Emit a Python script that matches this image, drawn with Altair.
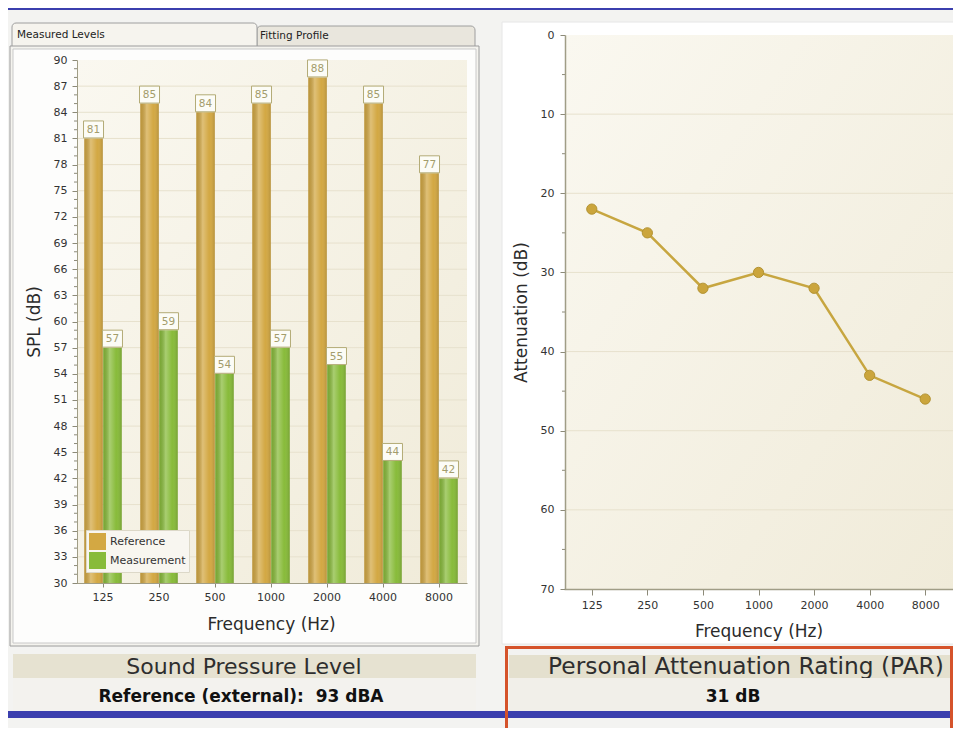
import altair as alt
import pandas as pd

# ---------------- data ----------------
freqs = ["125", "250", "500", "1000", "2000", "4000", "8000"]
reference = [81, 85, 84, 85, 88, 85, 77]
measurement = [57, 59, 54, 57, 55, 44, 42]
attenuation = [22, 25, 32, 30, 32, 43, 46]
series_names = ["Reference", "Measurement"]
series_colors = ["#d3a843", "#88bb3a"]
spl_ticks = list(range(30, 91, 3))
spl_minor = [v for v in range(31, 90) if v % 3]
spl_grid = list(range(33, 90, 3))
att_ticks = list(range(0, 71, 10))
att_minor = list(range(5, 70, 10))
att_grid = list(range(10, 70, 10))

tab_left = "Measured Levels"
tab_right = "Fitting Profile"
left_title = "Sound Pressure Level"
left_sub = "Reference (external):\u00a0 93 dBA"
right_title = "Personal Attenuation Rating (PAR)"
right_sub = "31 dB"
x_title = "Frequency (Hz)"
spl_title = "SPL (dB)"
att_title = "Attenuation (dB)"

FONT = "DejaVu Sans"
W, H = 945, 720


def P(v):
    return v - 8


one = pd.DataFrame({"k": [0]})


def rect(x1, y1, x2, y2, **kw):
    return alt.Chart(one).mark_rect(**kw).encode(
        x=alt.value(P(x1)), x2=alt.value(P(x2)),
        y=alt.value(P(y1)), y2=alt.value(P(y2)))


def label(txt, x, y, **kw):
    return alt.Chart(one).mark_text(text=txt, font=FONT, **kw).encode(
        x=alt.value(P(x)), y=alt.value(P(y)))


cream = alt.Gradient(
    gradient="linear", x1=0, y1=0, x2=1, y2=1,
    stops=[alt.GradientStop(offset=0, color="#faf8f0"),
           alt.GradientStop(offset=1, color="#f0ebd9")])

# ---------------- background decoration ----------------
bg = [
    rect(8, 8, 961, 10, color="#3b3fae"),
    # left tabs
    rect(257, 26, 475, 47, fill="#e9e6dd", stroke="#9e9e9e", strokeWidth=1,
         cornerRadiusTopLeft=4, cornerRadiusTopRight=4),
    rect(12, 23, 257, 47, fill="#f6f4ee", stroke="#9e9e9e", strokeWidth=1,
         cornerRadiusTopLeft=4, cornerRadiusTopRight=4),
    label(tab_left, 17, 35, fontSize=10.5, align="left", baseline="middle", color="#222"),
    label(tab_right, 260, 36, fontSize=10.5, align="left", baseline="middle", color="#222"),
    # left panel
    rect(10, 46, 479, 646, fill="#f4f3ee", stroke="#9c9c9c", strokeWidth=1),
    rect(13, 49, 476, 643, fill="#fdfdfc", stroke="#c9c9c9", strokeWidth=1),
    rect(77, 60, 467, 583, fill=cream),
    # right panel
    rect(502, 22, 961, 644, fill="#ffffff", stroke="#e6e6e6", strokeWidth=1),
    rect(565, 35, 953, 589, fill=cream),
    # bottom strips
    rect(13, 654, 476, 678, fill="#e6e2d1"),
    rect(509, 655, 958, 678, fill="#e4e0ce"),
]

# ---------------- left: bar chart ----------------
bars_df = pd.DataFrame(
    [{"freq": f, "series": s, "value": v}
     for s, vals in zip(series_names, [reference, measurement])
     for f, v in zip(freqs, vals)])

xL_scale = alt.Scale(domain=freqs, range=[P(75), P(467)], paddingInner=0.33, paddingOuter=0.165)
yL_scale = alt.Scale(domain=[30, 90], range=[P(583), P(60)], nice=False, zero=False)
xoff = alt.XOffset("series:N", sort=series_names,
                   scale=alt.Scale(domain=series_names, paddingInner=0.02))

xL_axis = alt.Axis(orient="bottom", offset=-(H - P(583)), title=x_title, labelAngle=0,
                   labelFont=FONT, labelFontSize=11, labelColor="#333", labelPadding=4,
                   tickSize=4, tickColor="#8c8a78", domainColor="#a09d86",
                   titleFont=FONT, titleFontSize=17, titleFontWeight="normal",
                   titleColor="#2b2b2b", titlePadding=14, grid=False, zindex=2)
yL_axis = alt.Axis(orient="left", offset=-P(77), title=spl_title, values=spl_ticks,
                   labelFont=FONT, labelFontSize=11, labelColor="#333", labelPadding=5,
                   tickSize=5, tickColor="#8c8a78", domainColor="#a09d86",
                   titleFont=FONT, titleFontSize=17, titleFontWeight="normal",
                   titleColor="#2b2b2b", titlePadding=10, grid=False, zindex=2)

grid_df = pd.DataFrame({"value": spl_grid})
minor_df = pd.DataFrame({"value": spl_minor})

gridL = alt.Chart(grid_df).mark_rule(color="#e7e1cd", strokeWidth=1).encode(
    y=alt.Y("value:Q", scale=yL_scale, axis=yL_axis),
    x=alt.value(P(77)), x2=alt.value(P(467)))
minorL = alt.Chart(minor_df).mark_rule(color="#8c8a78", strokeWidth=1).encode(
    y=alt.Y("value:Q", scale=yL_scale, axis=yL_axis),
    x=alt.value(P(74)), x2=alt.value(P(77)))

enc = dict(
    x=alt.X("freq:N", sort=freqs, scale=xL_scale, axis=xL_axis),
    xOffset=xoff,
    y=alt.Y("value:Q", scale=yL_scale, axis=yL_axis),
)

bars = alt.Chart(bars_df).mark_bar().encode(
    y2=alt.datum(30),
    color=alt.Color("series:N", sort=series_names,
                    scale=alt.Scale(domain=series_names, range=series_colors),
                    legend=alt.Legend(orient="none", legendX=P(86), legendY=P(530), title=None,
                                      symbolType="square", symbolSize=289, symbolStrokeWidth=0,
                                      labelFont=FONT, labelFontSize=11, labelColor="#333",
                                      fillColor="#f8f6f0", strokeColor="#dcd8c8", padding=3,
                                      rowPadding=2, symbolOpacity=1)),
    **enc)

shine = alt.Gradient(
    gradient="linear", x1=0, y1=0, x2=1, y2=0,
    stops=[alt.GradientStop(offset=0, color="rgba(0,0,0,0.10)"),
           alt.GradientStop(offset=0.35, color="rgba(255,255,255,0.28)"),
           alt.GradientStop(offset=0.7, color="rgba(255,255,255,0.0)"),
           alt.GradientStop(offset=1, color="rgba(0,0,0,0.14)")])
bars_shine = alt.Chart(bars_df).mark_bar(fill=shine).encode(y2=alt.datum(30), **enc)

boxes = alt.Chart(bars_df).mark_point(
    shape="M-1,-0.85H1V0.85H-1Z", size=400, filled=True, fill="#fcfcf6",
    stroke="#b3ab76", strokeWidth=1, opacity=1, yOffset=-9).encode(**enc)
texts = alt.Chart(bars_df).mark_text(
    font=FONT, fontSize=10.5, color="#a39d6c", dy=-8.5, baseline="middle").encode(
    text="value:Q", **enc)

left = alt.layer(gridL, minorL, bars, bars_shine, boxes, texts)

# ---------------- right: line chart ----------------
att_df = pd.DataFrame({"freq": freqs, "att": attenuation})
xR_scale = alt.Scale(type="point", domain=freqs, range=[P(564), P(953)], padding=0.5)
yR_scale = alt.Scale(domain=[0, 70], range=[P(35), P(589)], nice=False, zero=False)
xR_axis = alt.Axis(orient="bottom", offset=-(H - P(589)), title=x_title, labelAngle=0,
                   labelFont=FONT, labelFontSize=11, labelColor="#333", labelPadding=4,
                   tickSize=6, tickColor="#8c8a78", domainColor="#a09d86", domainWidth=1.5,
                   titleFont=FONT, titleFontSize=17, titleFontWeight="normal",
                   titleColor="#2b2b2b", titlePadding=13, grid=False, zindex=2)
yR_axis = alt.Axis(orient="left", offset=-P(565), title=att_title, values=att_ticks,
                   labelFont=FONT, labelFontSize=11, labelColor="#333", labelPadding=6,
                   tickSize=5, tickColor="#8c8a78", domainColor="#a09d86", domainWidth=1.5,
                   titleFont=FONT, titleFontSize=17, titleFontWeight="normal",
                   titleColor="#2b2b2b", titlePadding=10, grid=False, zindex=2)

gridR = alt.Chart(pd.DataFrame({"att": att_grid})).mark_rule(color="#e7e1cd").encode(
    y=alt.Y("att:Q", scale=yR_scale, axis=yR_axis),
    x=alt.value(P(565)), x2=alt.value(P(953)))
minorR = alt.Chart(pd.DataFrame({"att": att_minor})).mark_rule(color="#8c8a78").encode(
    y=alt.Y("att:Q", scale=yR_scale, axis=yR_axis),
    x=alt.value(P(562)), x2=alt.value(P(565)))
encR = dict(x=alt.X("freq:N", sort=freqs, scale=xR_scale, axis=xR_axis),
            y=alt.Y("att:Q", scale=yR_scale, axis=yR_axis))
line = alt.Chart(att_df).mark_line(color="#c7a640", strokeWidth=2.5).encode(**encR)
pts = alt.Chart(att_df).mark_circle(size=105, color="#cba53c", opacity=1,
                                    stroke="#b39332", strokeWidth=1).encode(**encR)
right = alt.layer(gridR, minorR, line, pts)

# ---------------- foreground decoration ----------------
fg = [
    label(left_title, 244, 667, fontSize=22, align="center", baseline="middle", color="#2e2e2e"),
    label(right_title, 746, 667, fontSize=23.3, align="center", baseline="middle", color="#2e2e2e"),
    rect(13, 678, 476, 711, fill="#f3f2ee"),
    rect(509, 678, 958, 711, fill="#f1efe9"),
    label(left_sub, 241, 697, fontSize=17, fontWeight="bold", align="center",
          baseline="middle", color="#111"),
    label(right_sub, 733, 697, fontSize=17, fontWeight="bold", align="center",
          baseline="middle", color="#111"),
    rect(8, 711, 961, 718, color="#3b3fae"),
    rect(506.5, 647.5, 951.5, 740, fill=None, filled=False, stroke="#d5532b", strokeWidth=3),
]

chart = alt.layer(*bg, left, right, *fg).resolve_scale(
    x="independent", y="independent", color="independent"
).properties(
    width=W, height=H, padding=0,
    autosize=alt.AutoSizeParams(type="none"),
    background="#f3f3f1",
).configure_view(stroke=None)

chart.save("out.html", embed_options={"renderer": "svg", "actions": False})
